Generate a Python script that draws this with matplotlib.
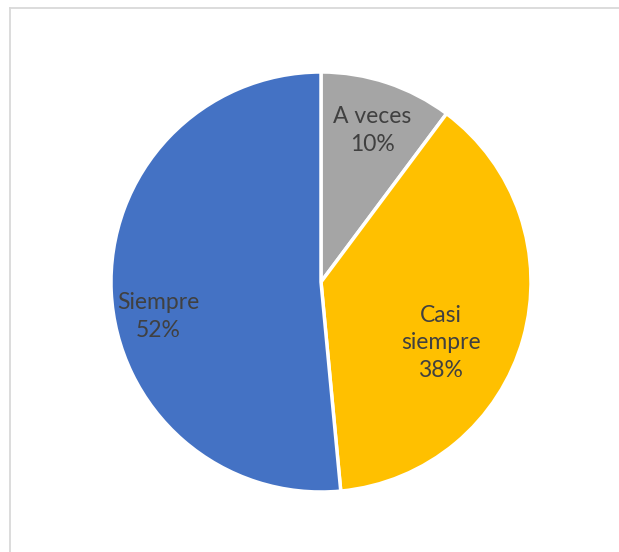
import matplotlib
matplotlib.use("Agg")
import matplotlib.pyplot as plt
from matplotlib.lines import Line2D

categories = ["A veces", "Casi siempre", "Siempre"]
values = [10.2, 38.3, 51.5]
pct_labels = ["10%", "38%", "52%"]
colors = ["#A5A5A5", "#FFC000", "#4472C4"]

W, H = 619, 552
fig = plt.figure(figsize=(W / 100, H / 100), dpi=100)
fig.patch.set_facecolor("white")

# border (left and top visible)
bx, by = 9.5 / W, 1 - 7.5 / H
fig.add_artist(Line2D([bx, bx], [0, by], transform=fig.transFigure, color="#D9D9D9", linewidth=1.3))
fig.add_artist(Line2D([bx, 1], [by, by], transform=fig.transFigure, color="#D9D9D9", linewidth=1.3))

cx, cy, r = 321, 282, 210
ax = fig.add_axes([(cx - r) / W, (H - cy - r) / H, 2 * r / W, 2 * r / H])
disp = ["A veces", "Casi\nsiempre", "Siempre"]
wedges, texts = ax.pie(values, colors=colors, startangle=90, counterclock=False,
                       radius=1.0, wedgeprops=dict(edgecolor="white", linewidth=2.5),
                       labels=[f"{c}\n{p}" for c, p in zip(disp, pct_labels)],
                       labeldistance=0.75,
                       textprops=dict(color="#404040", fontsize=16.5, family="Lato",
                                      ha="center", va="center", linespacing=1.4))
ax.set_xlim(-1, 1)
ax.set_ylim(-1, 1)
ax.set_aspect("equal")
ax.axis("off")

label_pos = [(0.245, 0.72), (0.57, -0.29), (-0.775, -0.165)]
for t, p in zip(texts, label_pos):
    t.set_position(p)
    t.set_ha("center")
    t.set_va("center")

fig.savefig("out.png", dpi=100, facecolor="white")
